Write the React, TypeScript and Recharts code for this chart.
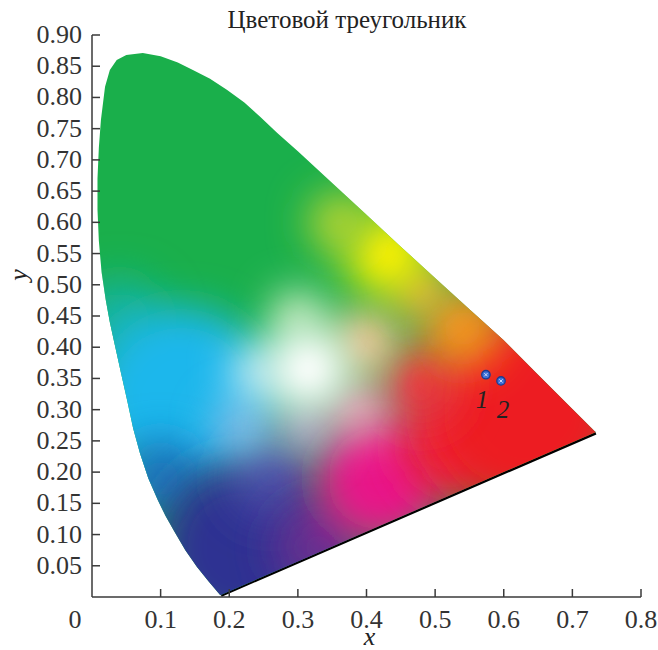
import { ReferenceLine, Scatter, ScatterChart, XAxis, YAxis } from "recharts";

document.body.style.margin = "0";

// spectral locus (x, y chromaticity)
const locusPoints = [
  { x: 0.187, y: 0.003 },
  { x: 0.17, y: 0.025 },
  { x: 0.153, y: 0.048 },
  { x: 0.136, y: 0.075 },
  { x: 0.12, y: 0.105 },
  { x: 0.107, y: 0.13 },
  { x: 0.096, y: 0.155 },
  { x: 0.082, y: 0.19 },
  { x: 0.07, y: 0.23 },
  { x: 0.06, y: 0.27 },
  { x: 0.051, y: 0.316 },
  { x: 0.042, y: 0.36 },
  { x: 0.034, y: 0.4 },
  { x: 0.026, y: 0.44 },
  { x: 0.02, y: 0.476 },
  { x: 0.014, y: 0.52 },
  { x: 0.01, y: 0.57 },
  { x: 0.008, y: 0.62 },
  { x: 0.008, y: 0.67 },
  { x: 0.01, y: 0.72 },
  { x: 0.013, y: 0.764 },
  { x: 0.019, y: 0.817 },
  { x: 0.026, y: 0.844 },
  { x: 0.036, y: 0.86 },
  { x: 0.05, y: 0.868 },
  { x: 0.074, y: 0.871 },
  { x: 0.1, y: 0.866 },
  { x: 0.125, y: 0.856 },
  { x: 0.147, y: 0.844 },
  { x: 0.172, y: 0.83 },
  { x: 0.197, y: 0.812 },
  { x: 0.222, y: 0.792 },
  { x: 0.245, y: 0.769 },
  { x: 0.27, y: 0.743 },
  { x: 0.3, y: 0.714 },
  { x: 0.35, y: 0.663 },
  { x: 0.4, y: 0.612 },
  { x: 0.45, y: 0.561 },
  { x: 0.5, y: 0.511 },
  { x: 0.55, y: 0.461 },
  { x: 0.6, y: 0.411 },
  { x: 0.65, y: 0.356 },
  { x: 0.7, y: 0.301 },
  { x: 0.734, y: 0.264 },
];

// line of purples
const purpleLine = [
  { x: 0.188, y: 0.003 },
  { x: 0.734, y: 0.263 },
];

// colour read at a few places inside the triangle (painted in this order)
const colorField = [
  { name: "teal", x: 0.04, y: 0.44, color: "#15b39a" },
  { name: "cyan", x: 0.13, y: 0.32, color: "#1cb7ec" },
  { name: "blue", x: 0.1, y: 0.19, color: "#1b75bc" },
  { name: "navy", x: 0.22, y: 0.08, color: "#2e3192" },
  { name: "indigo", x: 0.26, y: 0.19, color: "#4a4ba6" },
  { name: "violet", x: 0.33, y: 0.08, color: "#662d91" },
  { name: "magenta", x: 0.42, y: 0.19, color: "#e8178a" },
  { name: "rose", x: 0.52, y: 0.24, color: "#ee2448" },
  { name: "red", x: 0.63, y: 0.3, color: "#ed1c24" },
  { name: "redInner", x: 0.48, y: 0.34, color: "#ee3240" },
  { name: "skyBlue", x: 0.22, y: 0.27, color: "#86bde8" },
  { name: "lavender", x: 0.31, y: 0.27, color: "#c3a6d8" },
  { name: "pinkLight", x: 0.39, y: 0.3, color: "#f5a2bf" },
  { name: "orange", x: 0.54, y: 0.43, color: "#f7941d" },
  { name: "peach", x: 0.4, y: 0.41, color: "#fcc597" },
  { name: "amber", x: 0.48, y: 0.49, color: "#fbb03b" },
  { name: "yellow", x: 0.43, y: 0.55, color: "#fff200" },
  { name: "lime", x: 0.36, y: 0.6, color: "#bdd630" },
  { name: "paleGreen", x: 0.3, y: 0.45, color: "#d8efc8" },
  { name: "skyTint", x: 0.24, y: 0.36, color: "#c6ebf9" },
  { name: "white", x: 0.315, y: 0.365, color: "#ffffff" },
];

const fieldSpread: Record<string, number> = {
  teal: 45,
  cyan: 90,
  blue: 40,
  navy: 85,
  indigo: 40,
  violet: 45,
  magenta: 66,
  rose: 50,
  red: 100,
  redInner: 40,
  skyBlue: 30,
  lavender: 28,
  pinkLight: 30,
  orange: 40,
  peach: 34,
  amber: 28,
  yellow: 42,
  lime: 30,
  paleGreen: 26,
  skyTint: 26,
  white: 44,
};

const samplePoints = [
  { x: 0.574, y: 0.356, label: "1" },
  { x: 0.596, y: 0.346, label: "2" },
];

const xTicks = [0, 0.1, 0.2, 0.3, 0.4, 0.5, 0.6, 0.7, 0.8];
const yTicks = [0.05, 0.1, 0.15, 0.2, 0.25, 0.3, 0.35, 0.4, 0.45, 0.5, 0.55, 0.6, 0.65, 0.7, 0.75, 0.8, 0.85, 0.9];

const FONT = '"Liberation Serif", "Times New Roman", serif';
const AXIS = "#3a3a3a";

const labelOffset: Record<string, { dx: number; dy: number }> = {
  "1": { dx: -4, dy: 33 },
  "2": { dx: 2, dy: 37 },
};

function LocusFill(props: any) {
  const pts: { x: number; y: number }[] = props.points ?? [];
  if (!pts.length) return <g />;
  const d = pts.map((p, i) => `${i ? "L" : "M"}${p.x},${p.y}`).join("") + "Z";
  return (
    <g>
      <defs>
        <clipPath id="locus-clip">
          <path d={d} />
        </clipPath>
        <filter id="field-blur" x="-100%" y="-100%" width="300%" height="300%">
          <feGaussianBlur stdDeviation="20" />
        </filter>
      </defs>
      <path d={d} fill="#1aaf4b" stroke="none" />
    </g>
  );
}

function FieldBlob(props: any) {
  const { cx, cy, payload } = props;
  return (
    <circle
      cx={cx}
      cy={cy}
      r={fieldSpread[payload.name] ?? 30}
      fill={payload.color}
      filter="url(#field-blur)"
      clipPath="url(#locus-clip)"
    />
  );
}

function SampleMarker(props: any) {
  const { cx, cy, payload } = props;
  const off = labelOffset[payload.label] ?? { dx: 0, dy: 30 };
  return (
    <g>
      <circle cx={cx} cy={cy} r={4.2} fill="#3c6fd6" stroke="#1d3a8e" strokeWidth={1.3} />
      <path d={`M${cx - 1.6},${cy - 1.6}L${cx + 1.6},${cy + 1.6}M${cx + 1.6},${cy - 1.6}L${cx - 1.6},${cy + 1.6}`} stroke="#dfe8ff" strokeWidth={0.9} />
      <text x={cx + off.dx} y={cy + off.dy} textAnchor="middle" fontFamily={FONT} fontStyle="italic" fontSize={25} fill="#222">
        {payload.label}
      </text>
    </g>
  );
}

function XTick({ x, y, payload }: any) {
  const v = payload.value as number;
  return (
    <g>
      {v > 0 && <line x1={x} x2={x} y1={y} y2={y - 8} stroke={AXIS} strokeWidth={1.5} />}
      <text x={v === 0 ? x - 17 : x} y={y + 31} textAnchor="middle" fontFamily={FONT} fontSize={26} fill="#333">
        {v === 0 ? "0" : v.toFixed(1)}
      </text>
    </g>
  );
}

function YTick({ x, y, payload }: any) {
  const v = payload.value as number;
  return (
    <g>
      <line x1={x} x2={x + 8} y1={y} y2={y} stroke={AXIS} strokeWidth={1.5} />
      <text x={x - 10} y={y + 8} textAnchor="end" fontFamily={FONT} fontSize={26} fill="#333">
        {v.toFixed(2)}
      </text>
    </g>
  );
}

export default function App() {
  return (
    <div style={{ position: "relative", width: 658, height: 650, background: "#fff" }}>
      <div
        style={{
          position: "absolute",
          top: 7,
          left: 147,
          width: 400,
          textAlign: "center",
          fontFamily: FONT,
          fontSize: 25,
          lineHeight: "25px",
          color: "#222",
        }}
      >
        Цветовой треугольник
      </div>
      <ScatterChart width={658} height={650} margin={{ top: 35, right: 17, bottom: 0, left: 0 }}>
        <XAxis
          type="number"
          dataKey="x"
          domain={[0, 0.8]}
          ticks={xTicks}
          interval={0}
          height={53}
          tickSize={0}
          tickMargin={0}
          tickLine={false}
          tick={<XTick />}
          axisLine={{ stroke: AXIS, strokeWidth: 1.5 }}
          label={(p: any) => (
            <text
              x={p.viewBox.x + p.viewBox.width / 2 + 3}
              y={p.viewBox.y + 48}
              textAnchor="middle"
              fontFamily={FONT}
              fontStyle="italic"
              fontSize={26}
              fill="#222"
            >
              x
            </text>
          )}
        />
        <YAxis
          type="number"
          dataKey="y"
          domain={[0, 0.9]}
          ticks={yTicks}
          interval={0}
          width={92}
          tickSize={0}
          tickMargin={0}
          tickLine={false}
          tick={<YTick />}
          axisLine={{ stroke: AXIS, strokeWidth: 1.5 }}
          label={(p: any) => (
            <text
              x={18}
              y={p.viewBox.y + 240}
              transform={`rotate(-90 18 ${p.viewBox.y + 240})`}
              textAnchor="middle"
              dominantBaseline="central"
              fontFamily={FONT}
              fontStyle="italic"
              fontSize={26}
              fill="#222"
            >
              y
            </text>
          )}
        />
        <Scatter data={locusPoints} line={LocusFill} lineType="joint" shape={() => <g />} isAnimationActive={false} />
        <Scatter data={colorField} shape={FieldBlob} isAnimationActive={false} />
        <ReferenceLine segment={purpleLine} stroke="#000" strokeWidth={3.5} />
        <Scatter data={samplePoints} shape={SampleMarker} isAnimationActive={false} />
      </ScatterChart>
    </div>
  );
}
